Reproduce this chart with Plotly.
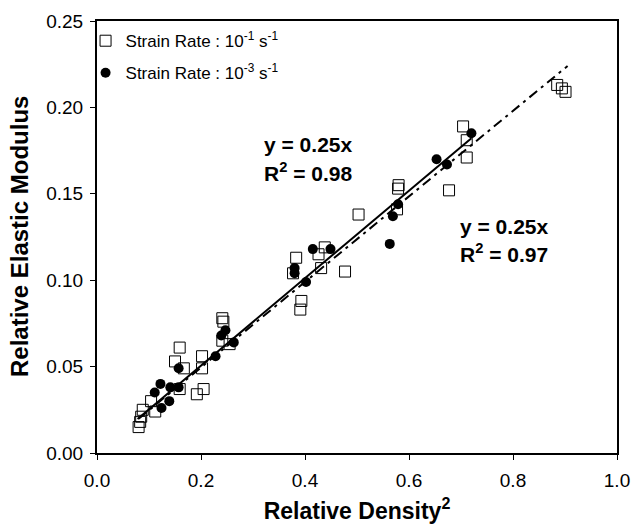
import plotly.graph_objects as go

# Strain rate 10^-1 s^-1 (open squares)
fast_x = [0.080, 0.083, 0.085, 0.088, 0.104, 0.112, 0.150, 0.159, 0.167, 0.159,
          0.192, 0.205, 0.202, 0.202, 0.241, 0.243, 0.241, 0.255, 0.383, 0.377,
          0.393, 0.391, 0.426, 0.438, 0.431, 0.477, 0.503, 0.579, 0.580, 0.577,
          0.677, 0.704, 0.711, 0.711, 0.885, 0.894, 0.901]
fast_y = [0.015, 0.018, 0.021, 0.025, 0.030, 0.024, 0.053, 0.061, 0.049, 0.037,
          0.034, 0.037, 0.056, 0.049, 0.078, 0.076, 0.065, 0.063, 0.113, 0.104,
          0.088, 0.083, 0.115, 0.119, 0.107, 0.105, 0.138, 0.153, 0.155, 0.141,
          0.152, 0.189, 0.181, 0.171, 0.213, 0.211, 0.209]

# Strain rate 10^-3 s^-1 (filled circles)
slow_x = [0.124, 0.111, 0.122, 0.139, 0.141, 0.157, 0.157, 0.228, 0.239, 0.247,
          0.263, 0.380, 0.380, 0.402, 0.415, 0.449, 0.563, 0.569, 0.579, 0.653,
          0.673, 0.720]
slow_y = [0.026, 0.035, 0.040, 0.030, 0.038, 0.038, 0.049, 0.056, 0.068, 0.071,
          0.064, 0.107, 0.104, 0.099, 0.118, 0.118, 0.121, 0.137, 0.144, 0.170,
          0.167, 0.185]

# Linear fits through origin
fit_fast_slope = 0.2475
fit_fast_x = [0.08, 0.905]
fit_slow_slope = 0.253
fit_slow_x = [0.078, 0.72]

x_ticks = [0.0, 0.2, 0.4, 0.6, 0.8, 1.0]
y_ticks = [0.00, 0.05, 0.10, 0.15, 0.20, 0.25]

FONT = "Liberation Sans, Arial, sans-serif"

fig = go.Figure()

fig.add_trace(go.Scatter(
    x=fit_fast_x, y=[fit_fast_slope * v for v in fit_fast_x],
    mode="lines", line=dict(color="black", width=2, dash="10px,5px,3px,5px"),
    showlegend=False, hoverinfo="skip"))
fig.add_trace(go.Scatter(
    x=fit_slow_x, y=[fit_slow_slope * v for v in fit_slow_x],
    mode="lines", line=dict(color="black", width=2),
    showlegend=False, hoverinfo="skip"))

fig.add_trace(go.Scatter(
    x=fast_x, y=fast_y, mode="markers",
    name="Strain Rate : 10<sup>-1</sup> s<sup>-1</sup>",
    legendgroup="a",
    marker=dict(symbol="square-open", size=11, color="black", line=dict(width=1))))
fig.add_trace(go.Scatter(
    x=slow_x, y=slow_y, mode="markers",
    name="Strain Rate : 10<sup>-3</sup> s<sup>-1</sup>",
    legendgroup="b",
    marker=dict(symbol="circle", size=10, color="black")))

ann_font = dict(size=21, family=FONT, color="black")
fig.add_annotation(x=0.3165, y=0.1785, xref="x", yref="y", text="<b>y = 0.25x</b>",
                   showarrow=False, xanchor="left", yanchor="middle", font=ann_font)
fig.add_annotation(x=0.3165, y=0.1625, xref="x", yref="y", text="<b>R<sup>2</sup> = 0.98</b>",
                   showarrow=False, xanchor="left", yanchor="middle", font=ann_font)
fig.add_annotation(x=0.6935, y=0.131, xref="x", yref="y", text="<b>y = 0.25x</b>",
                   showarrow=False, xanchor="left", yanchor="middle", font=ann_font)
fig.add_annotation(x=0.6935, y=0.1155, xref="x", yref="y", text="<b>R<sup>2</sup> = 0.97</b>",
                   showarrow=False, xanchor="left", yanchor="middle", font=ann_font)

# y-axis title as rotated text
fig.add_annotation(x=-0.15, y=0.5, xref="paper", yref="paper",
                   text="<b>Relative Elastic Modulus</b>", textangle=-90,
                   showarrow=False, xanchor="center", yanchor="middle",
                   font=dict(size=24, family=FONT, color="black"))

fig.update_layout(
    width=634, height=526,
    margin=dict(l=97, r=17, t=21, b=73, autoexpand=False),
    paper_bgcolor="white", plot_bgcolor="white",
    font=dict(family=FONT, size=19, color="black"),
    legend=dict(x=-0.022, y=0.995, xanchor="left", yanchor="top",
                bgcolor="rgba(0,0,0,0)", font=dict(size=17, family=FONT),
                tracegroupgap=7, traceorder="grouped"),
    xaxis=dict(range=[0, 1.0], tickvals=x_ticks, ticktext=[f"{v:.1f}" for v in x_ticks],
               showgrid=False, zeroline=False, showline=True, linecolor="black", linewidth=2,
               mirror=True, ticks="outside", ticklen=5, tickcolor="black", tickwidth=1,
               tickfont=dict(size=19), automargin=False, ticklabelstandoff=4,
               title=dict(text="<b>Relative Density<sup>2</sup></b>", font=dict(size=23), standoff=13)),
    yaxis=dict(range=[0, 0.25], tickvals=y_ticks, ticktext=[f"{v:.2f}" for v in y_ticks],
               showgrid=False, zeroline=False, showline=True, linecolor="black", linewidth=2,
               mirror=True, ticks="outside", ticklen=5, tickcolor="black", tickwidth=1,
               tickfont=dict(size=19), automargin=False, ticklabelstandoff=3),
)

fig.write_html("out.html", config={"displayModeBar": False},
               post_script="document.body.style.margin='0';document.body.style.overflow='hidden';")
